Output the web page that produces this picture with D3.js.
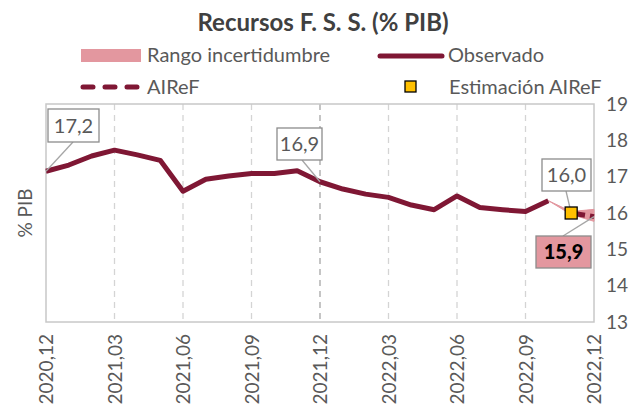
<!DOCTYPE html>
<html>
<head>
<meta charset="utf-8">
<script src="https://cdn.jsdelivr.net/npm/d3@7"></script>
<style>
  body { margin: 0; background: #fff; }
  text { font-family: Lato, "Open Sans", sans-serif; }
</style>
</head>
<body>
<div id="chart"></div>
<script>
// months on the x axis, 2020,12 .. 2022,12
var months = ["2020,12","2021,01","2021,02","2021,03","2021,04","2021,05","2021,06","2021,07","2021,08","2021,09","2021,10","2021,11","2021,12",
  "2022,01","2022,02","2022,03","2022,04","2022,05","2022,06","2022,07","2022,08","2022,09","2022,10","2022,11","2022,12"];
var tickMonths = ["2020,12","2021,03","2021,06","2021,09","2021,12","2022,03","2022,06","2022,09","2022,12"];
var yTicks = [13, 14, 15, 16, 17, 18, 19];

// observed series (ends 2022,10)
var observed = [17.15,17.32,17.57,17.73,17.6,17.45,16.6,16.93,17.02,17.09,17.09,17.16,16.86,
  16.66,16.52,16.43,16.22,16.09,16.47,16.15,16.09,16.04,16.34];
// AIReF projection
var airefMonths = ["2022,11","2022,12"];
var airefValues = [16.0, 15.9];
// uncertainty range
var rangeMonths = ["2022,10","2022,11","2022,12"];
var rangeLow = [16.34, 15.96, 15.77];
var rangeHigh = [16.34, 16.04, 16.1];
// estimation point
var estMonth = "2022,11";
var estValue = 16.0;

var svgWidth = 640, svgHeight = 405;
var plotL = 46, plotR = 594, plotT = 104, plotB = 322;
var dark = "#7f1734", pink = "#e3979f", grey = "#595959";

var svg = d3.select("#chart").append("svg")
  .attr("width", svgWidth).attr("height", svgHeight);

var x = d3.scalePoint().domain(months).range([plotL, plotR]);
var y = d3.scaleLinear().domain([13, 19]).range([plotB, plotT]);

// title
svg.append("text")
  .attr("x", 323).attr("y", 31)
  .attr("text-anchor", "middle")
  .style("font-size", "24px").style("font-weight", "bold")
  .attr("fill", "#404040")
  .text("Recursos F. S. S. (% PIB)");

// vertical grid
svg.append("g").selectAll("line")
  .data(tickMonths.slice(1, -1)).enter().append("line")
  .attr("x1", d => x(d)).attr("x2", d => x(d))
  .attr("y1", plotT).attr("y2", plotB)
  .attr("stroke", d => d == "2021,12" ? "#a6a6a6" : "#d4d4d4")
  .attr("stroke-width", 1.3)
  .attr("stroke-dasharray", "6,5");

// plot frame
svg.append("rect")
  .attr("x", plotL).attr("y", plotT)
  .attr("width", plotR - plotL).attr("height", plotB - plotT)
  .attr("fill", "none").attr("stroke", "#c8c8c8").attr("stroke-width", 1.5);

// y axis on the right
var yAxis = svg.append("g")
  .attr("transform", `translate(${plotR},0)`)
  .call(d3.axisRight(y).tickValues(yTicks).tickFormat(d3.format("d")).tickSize(0).tickPadding(12));
yAxis.select(".domain").remove();
yAxis.selectAll("text").style("font-size", "19px").attr("fill", grey);

// x axis labels rotated
var xAxis = svg.append("g")
  .attr("transform", `translate(0,${plotB})`)
  .call(d3.axisBottom(x).tickValues(tickMonths).tickSize(0));
xAxis.select(".domain").remove();
xAxis.selectAll("text")
  .style("font-size", "19px").attr("fill", grey)
  .attr("text-anchor", "end")
  .attr("transform", "rotate(-90)")
  .attr("x", -12).attr("y", 0).attr("dy", "0.35em");

// y axis title
svg.append("text")
  .attr("transform", "rotate(-90)")
  .attr("x", -213).attr("y", 32)
  .attr("text-anchor", "middle")
  .style("font-size", "19px").attr("fill", grey)
  .text("% PIB");

// uncertainty band
var band = d3.area()
  .x((d, i) => x(rangeMonths[i]))
  .y0((d, i) => y(rangeLow[i]))
  .y1((d, i) => y(rangeHigh[i]));
svg.append("path")
  .datum(rangeMonths)
  .attr("d", band)
  .attr("fill", pink).attr("stroke", pink).attr("stroke-width", 1);

// observed line
var line = d3.line()
  .x((d, i) => x(months[i]))
  .y(d => y(d));
svg.append("path")
  .datum(observed)
  .attr("d", line)
  .attr("fill", "none").attr("stroke", dark)
  .attr("stroke-width", 5).attr("stroke-linejoin", "round");

// AIReF dashed
svg.append("path")
  .datum(airefValues)
  .attr("d", d3.line().x((d, i) => x(airefMonths[i])).y(d => y(d)))
  .attr("fill", "none").attr("stroke", dark)
  .attr("stroke-width", 5).attr("stroke-dasharray", "14,5");

// annotations
function callout(m, v, bx, by, w, h, txt, opts) {
  opts = opts || {};
  var px = x(m), py = y(v);
  svg.append("line")
    .attr("x1", opts.lx != null ? opts.lx : bx + w / 2)
    .attr("y1", opts.ly != null ? opts.ly : by + h)
    .attr("x2", px).attr("y2", py)
    .attr("stroke", "#a6a6a6").attr("stroke-width", 1.3);
  svg.append("rect")
    .attr("x", bx).attr("y", by).attr("width", w).attr("height", h)
    .attr("fill", opts.fill || "#fff").attr("stroke", "#8c8c8c").attr("stroke-width", 1.3);
  svg.append("text")
    .attr("x", bx + w / 2).attr("y", by + h / 2).attr("dy", "0.36em")
    .attr("text-anchor", "middle")
    .style("font-size", "20px")
    .style("font-weight", opts.bold ? "900" : "normal")
    .attr("fill", opts.bold ? "#000" : grey)
    .text(txt);
}
callout("2020,12", observed[0], 48, 109, 51, 33, "17,2", {lx: 73});
callout("2021,12", observed[12], 277, 128, 45, 32, "16,9", {lx: 302});
callout("2022,12", airefValues[1], 536, 236, 55, 32, "15,9", {fill: pink, bold: true, lx: 563, ly: 236});
callout("2022,11", estValue, 542, 159, 49, 32, "16,0", {lx: 566});

// estimation square
svg.append("rect")
  .attr("x", x(estMonth) - 6).attr("y", y(estValue) - 6)
  .attr("width", 12).attr("height", 12)
  .attr("fill", "#ffc000").attr("stroke", "#000").attr("stroke-width", 1.3);

// legend
var lg = svg.append("g");
lg.append("rect").attr("x", 81).attr("y", 49).attr("width", 60).attr("height", 13).attr("fill", pink);
lg.append("text").attr("x", 147).attr("y", 62).style("font-size", "20px").attr("fill", grey).text("Rango incertidumbre");
lg.append("line").attr("x1", 380).attr("x2", 442).attr("y1", 56).attr("y2", 56)
  .attr("stroke", dark).attr("stroke-width", 5).attr("stroke-linecap", "round");
lg.append("text").attr("x", 448).attr("y", 62).style("font-size", "20px").attr("fill", grey).text("Observado");
lg.append("line").attr("x1", 83).attr("x2", 138).attr("y1", 87).attr("y2", 87)
  .attr("stroke", dark).attr("stroke-width", 5).attr("stroke-linecap", "round")
  .attr("stroke-dasharray", "10,12");
lg.append("text").attr("x", 147).attr("y", 94).style("font-size", "20px").attr("fill", grey).text("AIReF");
lg.append("rect").attr("x", 405).attr("y", 81).attr("width", 11).attr("height", 11)
  .attr("fill", "#ffc000").attr("stroke", "#000").attr("stroke-width", 1.3);
lg.append("text").attr("x", 449).attr("y", 94).style("font-size", "20px").attr("fill", grey).text("Estimación AIReF");
</script>
</body>
</html>
